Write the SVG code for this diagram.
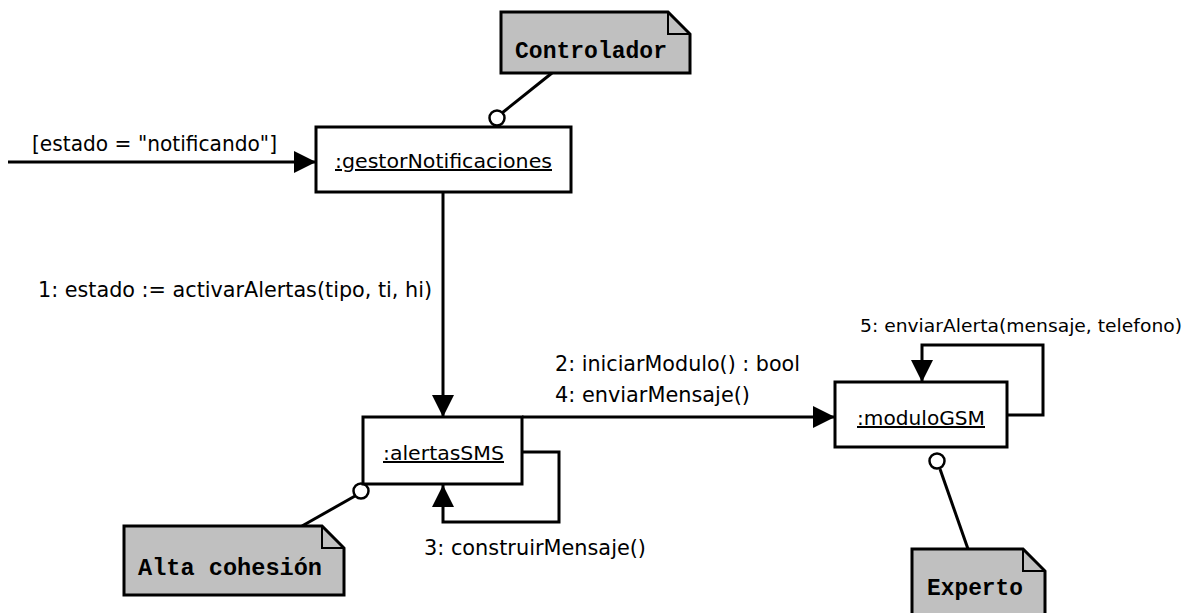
<svg xmlns="http://www.w3.org/2000/svg" width="1200" height="613" viewBox="0 0 1200 613">
  <style>
    .box { fill: #ffffff; stroke: #000000; stroke-width: 3; }
    .note { fill: #c0c0c0; stroke: #000000; stroke-width: 3; stroke-linejoin: miter; }
    .fold { fill: none; stroke: #000000; stroke-width: 2; }
    .link { fill: none; stroke: #000000; stroke-width: 3; }
    .anchor { fill: #ffffff; stroke: #000000; stroke-width: 2.5; }
    .name { font-family: "DejaVu Sans", "Liberation Sans", sans-serif; font-size: 20px; fill: #000000; text-decoration: underline; }
    .msg { font-family: "DejaVu Sans", "Liberation Sans", sans-serif; font-size: 20.5px; fill: #000000; }
    .msgSmall { font-family: "DejaVu Sans", "Liberation Sans", sans-serif; font-size: 18.5px; fill: #000000; }
    .noteText { font-family: "Liberation Mono", "Courier New", monospace; font-size: 23px; font-weight: bold; fill: #000000; }
  </style>
  <defs>
    <marker id="arrow" viewBox="0 0 22 22" refX="22" refY="11" markerWidth="22" markerHeight="22" orient="auto" markerUnits="userSpaceOnUse">
      <path d="M0,0 L22,11 L0,22 z" fill="#000000"/>
    </marker>
  </defs>

  <!-- connectors -->
  <g id="connectors">
    <line class="link" x1="8" y1="162" x2="316" y2="162" marker-end="url(#arrow)"/>
    <line class="link" x1="443" y1="192" x2="443" y2="417" marker-end="url(#arrow)"/>
    <line class="link" x1="522" y1="417" x2="835" y2="417" marker-end="url(#arrow)"/>
    <polyline class="link" points="522,452 559,452 559,522 443,522 443,485" marker-end="url(#arrow)"/>
    <polyline class="link" points="1007,415 1043,415 1043,345 922,345 922,382" marker-end="url(#arrow)"/>
    <!-- note anchors -->
    <line class="link" x1="552" y1="73" x2="502" y2="113"/>
    <circle class="anchor" cx="497" cy="118" r="7.5"/>
    <line class="link" x1="302" y1="526" x2="355" y2="496"/>
    <circle class="anchor" cx="361" cy="491" r="7.5"/>
    <line class="link" x1="968" y1="549" x2="940" y2="469"/>
    <circle class="anchor" cx="937" cy="461" r="7.5"/>
  </g>

  <!-- message labels -->
  <g id="labels">
    <text class="msg" x="32" y="151" textLength="245" lengthAdjust="spacingAndGlyphs">[estado = "notificando"]</text>
    <text class="msg" x="38" y="297" textLength="394" lengthAdjust="spacingAndGlyphs">1: estado := activarAlertas(tipo, ti, hi)</text>
    <text class="msg" x="555" y="371" textLength="245" lengthAdjust="spacingAndGlyphs">2: iniciarModulo() : bool</text>
    <text class="msg" x="555" y="402" textLength="195" lengthAdjust="spacingAndGlyphs">4: enviarMensaje()</text>
    <text class="msg" x="424" y="555" textLength="222" lengthAdjust="spacingAndGlyphs">3: construirMensaje()</text>
    <text class="msgSmall" x="860" y="332" textLength="322" lengthAdjust="spacingAndGlyphs">5: enviarAlerta(mensaje, telefono)</text>
  </g>

  <g id="gestorNotificaciones">
    <rect class="box" x="316" y="127" width="255" height="65"/>
    <text class="name" x="335" y="168" textLength="217" lengthAdjust="spacingAndGlyphs">:gestorNotificaciones</text>
  </g>

  <g id="alertasSMS">
    <rect class="box" x="363" y="417" width="159" height="67"/>
    <text class="name" x="383" y="460" textLength="121" lengthAdjust="spacingAndGlyphs">:alertasSMS</text>
  </g>

  <g id="moduloGSM">
    <rect class="box" x="835" y="382" width="172" height="65"/>
    <text class="name" x="857" y="425" textLength="128" lengthAdjust="spacingAndGlyphs">:moduloGSM</text>
  </g>

  <g id="noteControlador">
    <path class="note" d="M501,12 L668,12 L690,34 L690,73 L501,73 Z"/>
    <path class="fold" d="M668,12 L668,34 L690,34"/>
    <text class="noteText" x="515" y="58" textLength="152" lengthAdjust="spacingAndGlyphs">Controlador</text>
  </g>

  <g id="noteAltaCohesion">
    <path class="note" d="M124,526 L322,526 L344,548 L344,595 L124,595 Z"/>
    <path class="fold" d="M322,526 L322,548 L344,548"/>
    <text class="noteText" x="138" y="575" textLength="184" lengthAdjust="spacingAndGlyphs">Alta cohesión</text>
  </g>

  <g id="noteExperto">
    <path class="note" d="M912,549 L1023,549 L1045,571 L1045,616 L912,616 Z"/>
    <path class="fold" d="M1023,549 L1023,571 L1045,571"/>
    <text class="noteText" x="927" y="595" textLength="96" lengthAdjust="spacingAndGlyphs">Experto</text>
  </g>
</svg>
